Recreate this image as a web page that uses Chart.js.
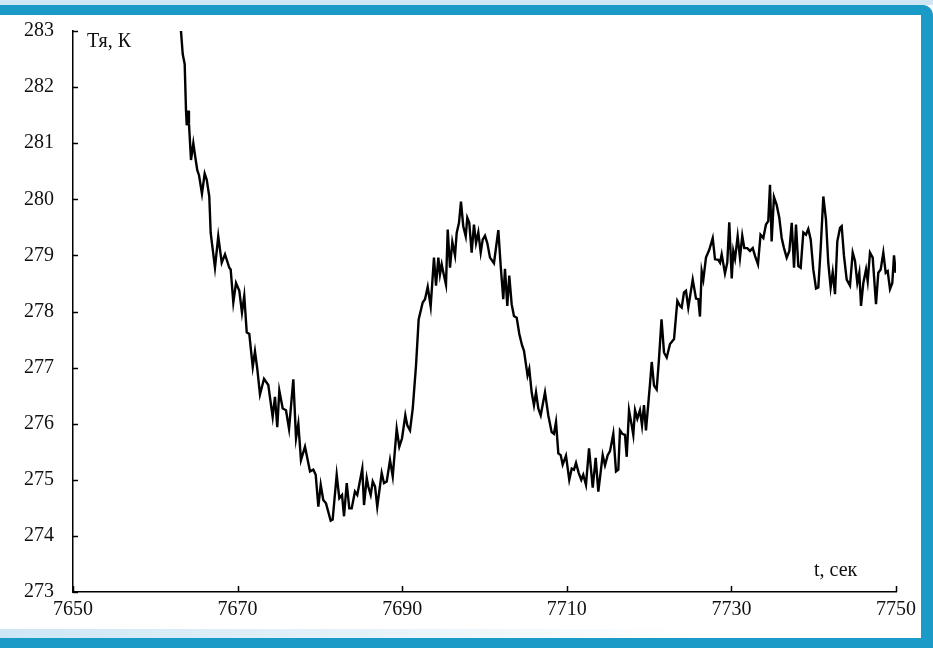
<!DOCTYPE html>
<html>
<head>
<meta charset="utf-8">
<script src="https://cdn.jsdelivr.net/npm/chart.js@4/dist/chart.umd.min.js"></script>
<style>
  body { margin: 0; background: #fff; }
  #wrap { position: relative; width: 933px; height: 648px; overflow: hidden; background: #fff; }
  #chart { position: absolute; left: 0; top: 0; }
  .band { position: absolute; background: #1a9ac7; }
  #topLight { position: absolute; left: 0; top: 0; width: 933px; height: 5px; background: #cfe7f4; }
  #top { left: 0; top: 5px; width: 933px; height: 10px; border-top-right-radius: 12px; }
  #right { left: 921px; top: 5px; width: 12px; height: 643px; border-top-right-radius: 12px; }
  #bottom { left: 0; top: 638px; width: 933px; height: 10px; }
  #bottomFade { position: absolute; left: 0; top: 629px; width: 921px; height: 9px;
    background: linear-gradient(to right, #cde6f6, #e6f2fb 40%, #ffffff 75%); }
</style>
</head>
<body>
<div id="wrap">
  <canvas id="chart" width="933" height="648"></canvas>
  <div id="topLight"></div>
  <div class="band" id="top"></div>
  <div class="band" id="right"></div>
  <div id="bottomFade"></div>
  <div class="band" id="bottom"></div>
</div>
<script>
// t, сек
const times = [
  7663.12, 7663.33, 7663.57, 7663.73, 7663.82, 7664.01, 7664.09, 7664.34, 7664.62, 7664.82,
  7665.10, 7665.31, 7665.67, 7666.00, 7666.25, 7666.56, 7666.73, 7667.25, 7667.65, 7668.07,
  7668.47, 7668.99, 7669.16, 7669.48, 7669.81, 7670.21, 7670.53, 7670.81, 7671.11, 7671.42,
  7671.84, 7672.11, 7672.39, 7672.72, 7673.21, 7673.73, 7674.26, 7674.54, 7674.82, 7675.07,
  7675.48, 7675.88, 7676.25, 7676.77, 7677.10, 7677.38, 7677.70, 7678.19, 7678.80, 7679.20,
  7679.49, 7679.81, 7680.10, 7680.41, 7680.74, 7681.31, 7681.55, 7682.04, 7682.36, 7682.69,
  7682.93, 7683.26, 7683.57, 7683.86, 7684.26, 7684.54, 7685.15, 7685.36, 7685.69, 7685.88,
  7686.17, 7686.42, 7686.70, 7686.97, 7687.51, 7687.79, 7688.12, 7688.52, 7688.85, 7689.33,
  7689.65, 7689.98, 7690.38, 7690.62, 7690.95, 7691.28, 7691.68, 7692.00, 7692.49, 7692.77,
  7693.10, 7693.46, 7693.86, 7694.11, 7694.39, 7694.59, 7694.80, 7694.99, 7695.32, 7695.53,
  7695.81, 7696.09, 7696.42, 7696.62, 7696.90, 7697.14, 7697.42, 7697.72, 7697.91, 7698.15,
  7698.44, 7698.72, 7698.97, 7699.25, 7699.54, 7699.78, 7700.06, 7700.34, 7700.67, 7701.15,
  7701.68, 7701.97, 7702.28, 7702.49, 7702.77, 7703.01, 7703.30, 7703.58, 7703.91, 7704.23,
  7704.56, 7704.80, 7705.23, 7705.44, 7705.73, 7706.01, 7706.26, 7706.54, 7706.83, 7707.35,
  7707.75, 7708.16, 7708.44, 7708.69, 7708.97, 7709.26, 7709.50, 7709.90, 7710.30, 7710.60,
  7710.87, 7711.12, 7711.45, 7711.76, 7712.00, 7712.33, 7712.70, 7713.15, 7713.51, 7713.83,
  7714.36, 7714.64, 7714.97, 7715.25, 7715.65, 7715.98, 7716.26, 7716.46, 7716.74, 7717.07,
  7717.28, 7717.56, 7717.89, 7718.08, 7718.29, 7718.57, 7718.89, 7719.14, 7719.38, 7719.62,
  7720.11, 7720.32, 7720.60, 7720.92, 7721.20, 7721.51, 7721.81, 7722.14, 7722.54, 7723.03,
  7723.43, 7723.75, 7723.96, 7724.24, 7724.48, 7724.76, 7725.30, 7725.70, 7725.98, 7726.18,
  7726.39, 7726.59, 7726.91, 7727.31, 7727.73, 7728.01, 7728.41, 7728.62, 7728.82, 7729.22,
  7729.50, 7729.74, 7730.04, 7730.23, 7730.44, 7730.76, 7731.04, 7731.32, 7731.57, 7731.93,
  7732.26, 7732.59, 7732.87, 7733.23, 7733.54, 7733.88, 7734.20, 7734.48, 7734.69, 7734.89,
  7735.17, 7735.50, 7735.82, 7736.11, 7736.39, 7736.72, 7737.04, 7737.33, 7737.61, 7737.85,
  7738.13, 7738.42, 7738.74, 7739.06, 7739.34, 7739.64, 7739.95, 7740.28, 7740.56, 7740.85,
  7741.17, 7741.49, 7741.77, 7742.06, 7742.31, 7742.59, 7742.87, 7743.20, 7743.40, 7743.68,
  7744.01, 7744.41, 7744.74, 7745.02, 7745.30, 7745.54, 7745.75, 7746.03, 7746.36, 7746.56,
  7746.84, 7747.17, 7747.57, 7747.85, 7748.14, 7748.46, 7748.75, 7748.99, 7749.27, 7749.55,
  7749.76, 7749.96
];
// Тя, К
const temps = [
  283.00, 282.59, 282.41, 281.59, 281.32, 281.58, 281.35, 280.70, 281.00, 280.79,
  280.52, 280.43, 280.10, 280.46, 280.35, 280.05, 279.40, 278.78, 279.34, 278.87,
  279.02, 278.78, 278.75, 278.16, 278.51, 278.37, 277.98, 278.28, 277.63, 277.60,
  277.01, 277.29, 276.98, 276.52, 276.80, 276.69, 276.12, 276.48, 275.94, 276.59,
  276.27, 276.24, 275.91, 276.79, 275.74, 276.00, 275.35, 275.59, 275.15, 275.18,
  275.09, 274.52, 274.91, 274.64, 274.58, 274.27, 274.29, 275.09, 274.67, 274.73,
  274.35, 274.94, 274.49, 274.49, 274.79, 274.73, 275.20, 274.55, 275.03, 274.88,
  274.73, 274.97, 274.88, 274.52, 275.12, 274.94, 274.97, 275.35, 275.06, 275.91,
  275.59, 275.74, 276.15, 275.97, 275.88, 276.27, 277.04, 277.86, 278.16, 278.22,
  278.44, 278.09, 278.96, 278.46, 278.96, 278.66, 278.84, 278.70, 278.48, 279.46,
  278.78, 279.24, 279.00, 279.40, 279.58, 279.96, 279.52, 279.34, 279.67, 279.58,
  279.05, 279.55, 279.22, 279.41, 279.05, 279.28, 279.35, 279.22, 278.96, 278.86,
  279.45, 278.81, 278.22, 278.76, 278.10, 278.64, 278.13, 277.92, 277.89, 277.60,
  277.40, 277.30, 276.86, 276.98, 276.56, 276.33, 276.56, 276.27, 276.15, 276.56,
  276.15, 275.85, 275.82, 276.03, 275.47, 275.44, 275.27, 275.43, 275.00, 275.20,
  275.18, 275.30, 275.12, 275.00, 275.09, 274.91, 275.56, 274.86, 275.39, 274.79,
  275.44, 275.26, 275.44, 275.51, 275.82, 275.15, 275.18, 275.88, 275.82, 275.80,
  275.41, 276.24, 275.97, 275.80, 276.24, 276.09, 276.24, 275.97, 276.33, 275.88,
  276.71, 277.10, 276.68, 276.61, 277.15, 277.86, 277.27, 277.18, 277.42, 277.51,
  278.19, 278.10, 278.07, 278.34, 278.37, 278.07, 278.57, 278.23, 278.22, 277.91,
  278.72, 278.57, 278.96, 279.10, 279.31, 278.93, 278.92, 278.87, 279.02, 278.68,
  278.87, 279.59, 278.59, 279.08, 278.94, 279.34, 278.96, 279.35, 279.13, 279.13,
  279.08, 279.13, 278.99, 278.84, 279.37, 279.31, 279.55, 279.61, 280.26, 279.25,
  280.04, 279.90, 279.67, 279.31, 279.13, 278.96, 279.08, 279.58, 278.78, 279.55,
  278.81, 278.78, 279.41, 279.37, 279.47, 279.28, 278.75, 278.41, 278.43, 279.13,
  280.05, 279.64, 278.87, 278.43, 278.70, 278.31, 279.25, 279.49, 279.52, 278.99,
  278.57, 278.46, 279.05, 278.90, 278.51, 278.69, 278.10, 278.51, 278.75, 278.54,
  279.05, 278.96, 278.13, 278.69, 278.75, 279.05, 278.69, 278.72, 278.40, 278.51,
  279.00, 278.69
];
const xTicks = [7650, 7670, 7690, 7710, 7730, 7750];
const yTicks = [273, 274, 275, 276, 277, 278, 279, 280, 281, 282, 283];
const xTitle = "t, сек";
const yTitle = "Тя, К";

const points = times.map((t, i) => ({ x: t, y: temps[i] }));
const FONT = "'Liberation Serif', 'Times New Roman', serif";

// inward tick marks and axis titles placed inside the plot
const decorPlugin = {
  id: "decor",
  afterDraw(chart) {
    const { ctx, scales: { x, y } } = chart;
    ctx.save();
    ctx.strokeStyle = "#000";
    ctx.lineWidth = 1.5;
    ctx.beginPath();
    yTicks.forEach(v => {
      const py = Math.round(y.getPixelForValue(v)) + 0.5;
      ctx.moveTo(x.left, py);
      ctx.lineTo(x.left + 5, py);
    });
    xTicks.forEach(v => {
      const px = Math.round(x.getPixelForValue(v)) + 0.5;
      ctx.moveTo(px, y.bottom);
      ctx.lineTo(px, y.bottom - 6);
    });
    ctx.stroke();

    ctx.fillStyle = "#111";
    ctx.font = "20px " + FONT;
    ctx.textBaseline = "alphabetic";
    ctx.textAlign = "left";
    ctx.fillText(yTitle, x.left + 14, y.top + 16);
    ctx.fillText(xTitle, x.right - 82, y.bottom - 16);
    ctx.restore();
  }
};

new Chart(document.getElementById("chart"), {
  type: "line",
  data: {
    datasets: [{
      data: points,
      borderColor: "#000",
      borderWidth: 2.4,
      pointRadius: 0,
      tension: 0,
      fill: false
    }]
  },
  options: {
    responsive: false,
    animation: false,
    layout: { padding: { left: 0, top: 27, right: 37, bottom: 0 } },
    plugins: { legend: { display: false }, tooltip: { enabled: false } },
    scales: {
      x: {
        type: "linear",
        min: 7650,
        max: 7750,
        afterBuildTicks: s => { s.ticks = xTicks.map(v => ({ value: v })); },
        afterFit: s => { s.height = 56; },
        grid: { display: false, drawTicks: false },
        border: { display: true, color: "#000", width: 1.5 },
        ticks: { color: "#111", font: { family: FONT, size: 20 }, padding: 6, maxRotation: 0,
          callback: v => String(v) }
      },
      y: {
        min: 273,
        max: 283,
        afterBuildTicks: s => { s.ticks = yTicks.map(v => ({ value: v })); },
        afterFit: s => { s.width = 73; },
        grid: { display: false, drawTicks: false },
        border: { display: true, color: "#000", width: 1.5 },
        ticks: { color: "#111", font: { family: FONT, size: 20 }, padding: 19,
          callback: v => String(v) }
      }
    }
  },
  plugins: [decorPlugin]
});
</script>
</body>
</html>
